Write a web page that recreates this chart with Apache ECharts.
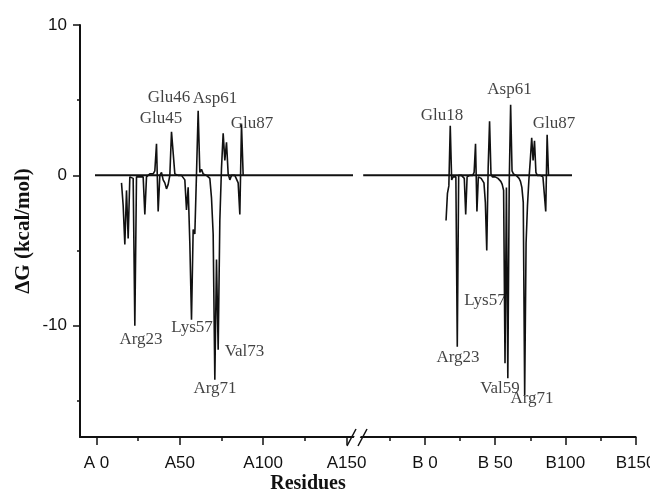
<!DOCTYPE html>
<html>
<head>
<meta charset="utf-8">
<script src="https://cdn.jsdelivr.net/npm/echarts@6/dist/echarts.min.js"></script>
<style>
html,body{margin:0;padding:0;background:#fff;}
#chart{width:650px;height:493px;}
</style>
</head>
<body>
<div id="chart"></div>
<script>
// ---------- data ----------
const residuesA = [15,16,17,18,19,20,21,22,23,24,25,26,27,28,29,30,31,32,33,34,35,36,37,38,39,40,41,42,43,44,45,46,47,48,49,50,51,52,53,54,55,56,57,58,59,60,61,62,63,64,65,66,67,68,69,70,71,72,73,74,75,76,77,78,79,80,81,82,83,84,85,86,87,88];
const dGA = [-0.5,-2.0,-4.6,-1.0,-4.2,-0.1,0.0,-0.2,-10.0,-0.1,0.0,-0.1,-0.2,-0.1,-2.6,-0.1,0.0,0.1,0.0,0.1,0.3,2.1,-2.4,0.0,0.2,-0.3,-0.5,-0.9,-0.6,0.0,2.9,3.0,0.1,0.0,0.0,0.0,0.0,-0.1,-0.3,-2.3,-0.8,-4.5,-9.6,-3.6,-3.9,0.1,4.3,0.2,0.4,0.1,0.0,0.0,-0.1,-0.2,-1.5,-3.9,-13.6,-5.6,-11.6,-3.0,0.5,2.8,1.0,2.2,0.1,-0.3,0.0,0.0,0.0,0.0,-0.5,-2.6,3.4,0.0];

const residuesB = [15,16,17,18,19,20,21,22,23,24,25,26,27,28,29,30,31,32,33,34,35,36,37,38,39,40,41,42,43,44,45,46,47,48,49,50,51,52,53,54,55,56,57,58,59,60,61,62,63,64,65,66,67,68,69,70,71,72,73,74,75,76,77,78,79,80,81,82,83,84,85,86,87,88];
const dGB = [-3.0,-1.2,-0.7,3.3,-0.3,-0.1,0.0,-0.1,-11.4,0.0,-0.1,0.0,0.0,-0.2,-2.6,-0.1,0.0,0.0,0.0,0.0,0.2,2.1,-2.4,-0.1,-0.1,-0.2,-0.3,-0.5,-1.8,-5.0,0.5,3.6,0.1,-0.1,-0.1,-0.1,-0.1,-0.2,-0.3,-0.4,-0.6,-1.0,-12.5,-0.8,-13.5,-0.5,4.7,0.3,0.1,0.0,0.0,-0.1,-0.2,-0.4,-0.8,-1.8,-14.6,-4.5,-2.0,-0.3,1.0,2.5,1.0,2.3,0.2,0.0,0.0,0.0,0.0,-0.1,-0.2,-2.4,2.7,0.0];

// reference (zero) lines, residue range covered on each chain
const zeroLineA = [-0.9, 153.9];
const zeroLineB = [-44, 104.7];

// residue labels: [text, residue, dG at label]
const labelsA = [
  ['Glu46', 43.5, 5.2], ['Asp61', 71.1, 5.14], ['Glu45', 38.7, 3.75], ['Glu87', 93.3, 3.48],
  ['Arg23', 26.7, -10.89], ['Lys57', 57.3, -10.09], ['Val73', 88.8, -11.69], ['Arg71', 71.1, -14.15]
];
const labelsB = [
  ['Glu18', 12.1, 4.01], ['Asp61', 60.2, 5.68], ['Glu87', 91.9, 3.48], ['Lys57', 42.7, -8.3],
  ['Arg23', 23.5, -12.09], ['Val59', 53.4, -14.15], ['Arg71', 76.2, -14.82]
];

const xMajorTicks = [0, 50, 100, 150];
const xTickLabelsA = ['A 0', 'A50', 'A100', 'A150'];
const xTickLabelsB = ['B 0', 'B 50', 'B100', 'B150'];
const xMinorTicksA = [25, 75, 125];
const xMinorTicksB = [-25, 25, 75, 125];
const yMajorTicks = [-10, 0, 10];
const yMinorTicks = [-15, -5, 5];

// ---------- chart ----------
const black = '#111';
const tickFont = {fontFamily: 'Liberation Sans, Arial, sans-serif', fontSize: 17, color: black};
const serif = 'Liberation Serif, Times New Roman, serif';

function pairs(xs, ys){ return xs.map((x,i)=>[x, ys[i]]); }

function xMajor(gridIndex, min, max, labels){
  return {
    type:'value', gridIndex, min, max, position:'bottom',
    axisLine:{show:true, onZero:false, lineStyle:{color:black, width:2}},
    axisTick:{show:true, customValues:xMajorTicks, length:8, lineStyle:{color:black, width:1.5}},
    axisLabel:Object.assign({show:true, customValues:xMajorTicks, margin:18,
      formatter:v=>labels[xMajorTicks.indexOf(v)]}, tickFont),
    splitLine:{show:false}
  };
}
function xMinor(gridIndex, min, max, ticks){
  return {
    type:'value', gridIndex, min, max, position:'bottom',
    axisLine:{show:false, onZero:false},
    axisTick:{show:true, customValues:ticks, length:4, lineStyle:{color:black, width:1.5}},
    axisLabel:{show:false}, splitLine:{show:false}
  };
}

const Y_MIN = -17.4, Y_MAX = 10;

const option = {
  animation:false,
  backgroundColor:'#fff',
  grid:[
    {left:80, top:25, width:278, height:412, containLabel:false, outerBoundsMode:'none'},
    {left:358, top:25, width:277.6, height:412, containLabel:false, outerBoundsMode:'none'}
  ],
  xAxis:[
    xMajor(0, -9.9, 156.9, xTickLabelsA),
    xMinor(0, -9.9, 156.9, xMinorTicksA),
    xMajor(1, -47.7, 150, xTickLabelsB),
    xMinor(1, -47.7, 150, xMinorTicksB)
  ],
  yAxis:[
    {type:'value', gridIndex:0, min:Y_MIN, max:Y_MAX, position:'left',
     name:'ΔG (kcal/mol)', nameLocation:'middle', nameGap:46,
     nameTextStyle:{fontFamily:serif, fontWeight:'bold', fontSize:21, color:black},
     axisLine:{show:true, onZero:false, lineStyle:{color:black, width:2}},
     axisTick:{show:true, customValues:yMajorTicks, length:7, lineStyle:{color:black, width:1.5}},
     axisLabel:Object.assign({show:true, customValues:yMajorTicks, margin:13}, tickFont),
     splitLine:{show:false}},
    {type:'value', gridIndex:0, min:Y_MIN, max:Y_MAX, position:'left',
     axisLine:{show:false, onZero:false},
     axisTick:{show:true, customValues:yMinorTicks, length:3, lineStyle:{color:black, width:1.5}},
     axisLabel:{show:false}, splitLine:{show:false}},
    {type:'value', gridIndex:1, min:Y_MIN, max:Y_MAX, show:false, axisLine:{onZero:false}}
  ],
  series:[
    {type:'line', xAxisIndex:0, yAxisIndex:0, data:[[zeroLineA[0],0],[zeroLineA[1],0]],
     symbol:'none', clip:false, lineStyle:{color:black, width:2}, silent:true},
    {type:'line', xAxisIndex:2, yAxisIndex:2, data:[[zeroLineB[0],0],[zeroLineB[1],0]],
     symbol:'none', clip:false, lineStyle:{color:black, width:2}, silent:true},
    {type:'line', xAxisIndex:0, yAxisIndex:0, data:pairs(residuesA, dGA),
     symbol:'none', lineStyle:{color:black, width:1.6}},
    {type:'line', xAxisIndex:2, yAxisIndex:2, data:pairs(residuesB, dGB),
     symbol:'none', lineStyle:{color:black, width:1.6}},
    {type:'scatter', xAxisIndex:0, yAxisIndex:0, data:labelsA.map(l=>[l[1],l[2],l[0]]),
     symbolSize:1, itemStyle:{color:'rgba(0,0,0,0)'}, clip:false,
     label:{show:true, position:'inside', formatter:p=>p.data[2],
       fontFamily:serif, fontSize:17, color:black}},
    {type:'scatter', xAxisIndex:2, yAxisIndex:2, data:labelsB.map(l=>[l[1],l[2],l[0]]),
     symbolSize:1, itemStyle:{color:'rgba(0,0,0,0)'}, clip:false,
     label:{show:true, position:'inside', formatter:p=>p.data[2],
       fontFamily:serif, fontSize:17, color:black}}
  ],
  graphic:[
    {type:'polygon', shape:{points:[[350,446],[358,429],[364,429],[356,446]]},
     style:{fill:'#fff'}, z:100},
    {type:'line', shape:{x1:347,y1:446,x2:356,y2:429}, style:{stroke:black, lineWidth:1.5}, z:101},
    {type:'line', shape:{x1:358,y1:446,x2:367,y2:429}, style:{stroke:black, lineWidth:1.5}, z:101},
    {type:'text', x:308, y:484, z:101,
     style:{text:'Residues', align:'center', verticalAlign:'middle',
       fontFamily:serif, fontWeight:'bold', fontSize:20, fill:black}}
  ]
};

const chart = echarts.init(document.getElementById('chart'), null, {renderer:'canvas'});
chart.setOption(option);
</script>
</body>
</html>
